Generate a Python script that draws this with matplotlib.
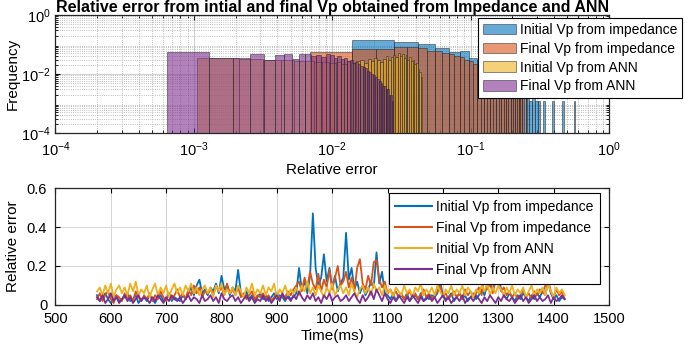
import numpy as np
import matplotlib.pyplot as plt
from matplotlib.patches import Patch
from matplotlib.lines import Line2D
from matplotlib.ticker import LogLocator, NullFormatter

plt.rcParams['font.family'] = ['Liberation Sans', 'DejaVu Sans']
plt.rcParams['font.size'] = 10

names = ['Initial Vp from impedance', 'Final Vp from impedance',
         'Initial Vp from ANN', 'Final Vp from ANN']
colors = ['#0072BD', '#D95319', '#EDB120', '#7E2F8E']  # matlab default order

# histogram: bin width of each series, bin k covers [k*w, (k+1)*w], k = 1, 2, ...
bin_w = [0.0139, 0.00695, 0.00106, 0.00064]

freq_init_imp = [0.14, 0.125, 0.104, 0.074, 0.056, 0.06, 0.035, 0.03, 0.02, 0.015,
                 0.012, 0.009, 0.007, 0.005, 0.004, 0.003, 0.003, 0.0024, 0.0012, 0.0024,
                 0.0012, 0.0012, 0, 0.0012, 0, 0, 0, 0.0012, 0, 0,
                 0, 0, 0.0012, 0, 0, 0, 0, 0, 0, 0.0012]
freq_final_imp = [0.056, 0.069, 0.069, 0.084, 0.080, 0.074, 0.062, 0.058, 0.050, 0.047,
                  0.040, 0.037, 0.030, 0.028, 0.022, 0.020, 0.016, 0.014, 0.012, 0.010,
                  0.009, 0.008, 0.006, 0.005, 0.005, 0.004, 0.004, 0.003, 0.003, 0.003,
                  0.002, 0.003, 0.002, 0.002, 0, 0.002]
freq_init_ann = [0.034, 0.032, 0.031, 0.030, 0.028, 0.027, 0.025, 0.026, 0.024, 0.026,
                 0.022, 0.027, 0.024, 0.028, 0.031, 0.024, 0.033, 0.028, 0.036, 0.030,
                 0.025, 0.033, 0.040, 0.030, 0.037, 0.045, 0.038, 0.050, 0.042, 0.047,
                 0.036, 0.044, 0.031, 0.038, 0.027, 0.030, 0.022, 0.024, 0.015, 0.012,
                 0.008]
freq_final_ann = [0.057, 0.034, 0.034, 0.047, 0.030, 0.044, 0.047, 0.032, 0.047, 0.046,
                  0.040, 0.043, 0.038, 0.047, 0.044, 0.036, 0.040, 0.033, 0.035, 0.028,
                  0.030, 0.024, 0.026, 0.021, 0.019, 0.017, 0.016, 0.013, 0.012, 0.010,
                  0.009, 0.008, 0.007, 0.006, 0.005, 0.004, 0.004, 0.003, 0.003, 0.002,
                  0.002, 0.0012]

# time series, one value every 5 ms from 575 to 1420 ms
t_ms = np.arange(575, 1421, 5)
err_init_imp = [
    0.05, 0.02, 0.04, 0.06, 0.03, 0.01, 0.04, 0.05, 0.02, 0.03,
    0.04, 0.06, 0.02, 0.03, 0.05, 0.01, 0.03, 0.04, 0.02, 0.05,
    0.03, 0.01, 0.04, 0.05, 0.02, 0.03, 0.06, 0.02, 0.04, 0.03,
    0.02, 0.05, 0.03, 0.06, 0.09, 0.05, 0.10, 0.13, 0.06, 0.08,
    0.05, 0.09, 0.07, 0.11, 0.06, 0.15, 0.08, 0.10, 0.05, 0.09,
    0.07, 0.18, 0.06, 0.04, 0.07, 0.03, 0.05, 0.02, 0.04, 0.06,
    0.03, 0.05, 0.02, 0.04, 0.06, 0.03, 0.05, 0.04, 0.02, 0.05,
    0.03, 0.04, 0.06, 0.19, 0.08, 0.12, 0.06, 0.15, 0.47, 0.19,
    0.10, 0.14, 0.26, 0.12, 0.19, 0.09, 0.15, 0.07, 0.11, 0.14,
    0.37, 0.13, 0.19, 0.08, 0.12, 0.06, 0.10, 0.05, 0.08, 0.12,
    0.09, 0.27, 0.11, 0.17, 0.06, 0.05, 0.03, 0.06, 0.02, 0.04,
    0.05, 0.03, 0.06, 0.02, 0.04, 0.05, 0.03, 0.06, 0.02, 0.04,
    0.03, 0.05, 0.04, 0.06, 0.12, 0.05, 0.03, 0.04, 0.06, 0.02,
    0.04, 0.06, 0.03, 0.05, 0.02, 0.04, 0.06, 0.03, 0.05, 0.08,
    0.05, 0.10, 0.13, 0.07, 0.12, 0.17, 0.08, 0.05, 0.03, 0.06,
    0.04, 0.02, 0.05, 0.03, 0.06, 0.04, 0.02, 0.05, 0.03, 0.06,
    0.04, 0.07, 0.05, 0.12, 0.06, 0.03, 0.05, 0.02, 0.04, 0.03]
err_final_imp = [
    0.03, 0.06, 0.02, 0.05, 0.07, 0.03, 0.01, 0.05, 0.04, 0.02,
    0.06, 0.03, 0.05, 0.02, 0.07, 0.04, 0.02, 0.05, 0.03, 0.06,
    0.02, 0.05, 0.03, 0.07, 0.04, 0.02, 0.06, 0.03, 0.05, 0.08,
    0.04, 0.06, 0.03, 0.08, 0.05, 0.10, 0.06, 0.09, 0.04, 0.07,
    0.06, 0.08, 0.05, 0.10, 0.07, 0.09, 0.05, 0.11, 0.06, 0.08,
    0.05, 0.09, 0.04, 0.06, 0.03, 0.05, 0.07, 0.03, 0.05, 0.04,
    0.06, 0.03, 0.05, 0.02, 0.04, 0.06, 0.03, 0.05, 0.04, 0.07,
    0.05, 0.08, 0.10, 0.12, 0.07, 0.14, 0.09, 0.17, 0.11, 0.08,
    0.16, 0.07, 0.13, 0.09, 0.18, 0.08, 0.14, 0.20, 0.10, 0.12,
    0.17, 0.09, 0.14, 0.07, 0.19, 0.235, 0.11, 0.08, 0.15, 0.10,
    0.22, 0.23, 0.13, 0.09, 0.12, 0.06, 0.08, 0.05, 0.07, 0.04,
    0.06, 0.03, 0.05, 0.07, 0.04, 0.06, 0.03, 0.05, 0.08, 0.04,
    0.06, 0.03, 0.05, 0.07, 0.10, 0.04, 0.06, 0.03, 0.05, 0.07,
    0.04, 0.06, 0.03, 0.08, 0.05, 0.07, 0.04, 0.06, 0.09, 0.05,
    0.165, 0.08, 0.11, 0.06, 0.15, 0.12, 0.07, 0.09, 0.05, 0.07,
    0.04, 0.06, 0.03, 0.05, 0.08, 0.04, 0.06, 0.03, 0.07, 0.05,
    0.08, 0.06, 0.10, 0.13, 0.07, 0.04, 0.08, 0.05, 0.07, 0.03]
err_init_ann = [
    0.07, 0.09, 0.05, 0.10, 0.06, 0.11, 0.04, 0.08, 0.10, 0.06,
    0.09, 0.05, 0.11, 0.07, 0.12, 0.05, 0.08, 0.06, 0.10, 0.04,
    0.08, 0.11, 0.05, 0.09, 0.06, 0.10, 0.04, 0.08, 0.11, 0.06,
    0.09, 0.05, 0.10, 0.07, 0.11, 0.06, 0.09, 0.05, 0.08, 0.10,
    0.06, 0.09, 0.04, 0.10, 0.07, 0.11, 0.05, 0.08, 0.06, 0.09,
    0.05, 0.10, 0.07, 0.04, 0.09, 0.06, 0.11, 0.05, 0.08, 0.06,
    0.10, 0.05, 0.09, 0.07, 0.11, 0.04, 0.08, 0.06, 0.10, 0.05,
    0.08, 0.06, 0.09, 0.05, 0.10, 0.07, 0.12, 0.06, 0.09, 0.05,
    0.10, 0.07, 0.04, 0.09, 0.06, 0.11, 0.05, 0.08, 0.10, 0.06,
    0.09, 0.05, 0.11, 0.07, 0.04, 0.08, 0.10, 0.06, 0.09, 0.05,
    0.11, 0.07, 0.09, 0.05, 0.10, 0.06, 0.08, 0.04, 0.09, 0.07,
    0.05, 0.10, 0.06, 0.08, 0.04, 0.09, 0.07, 0.11, 0.05, 0.08,
    0.06, 0.09, 0.05, 0.10, 0.07, 0.04, 0.08, 0.06, 0.10, 0.05,
    0.08, 0.06, 0.10, 0.05, 0.09, 0.07, 0.04, 0.08, 0.06, 0.10,
    0.07, 0.11, 0.05, 0.09, 0.06, 0.10, 0.08, 0.05, 0.09, 0.06,
    0.10, 0.05, 0.08, 0.06, 0.09, 0.04, 0.07, 0.10, 0.05, 0.08,
    0.06, 0.09, 0.05, 0.11, 0.07, 0.04, 0.09, 0.06, 0.08, 0.05]
err_final_ann = [
    0.04, 0.02, 0.05, 0.01, 0.03, 0.06, 0.02, 0.04, 0.01, 0.03,
    0.05, 0.02, 0.04, 0.01, 0.03, 0.05, 0.02, 0.04, 0.03, 0.01,
    0.04, 0.02, 0.05, 0.03, 0.01, 0.04, 0.02, 0.05, 0.03, 0.02,
    0.04, 0.01, 0.03, 0.05, 0.02, 0.04, 0.03, 0.01, 0.05, 0.02,
    0.03, 0.05, 0.02, 0.04, 0.01, 0.06, 0.03, 0.02, 0.04, 0.05,
    0.02, 0.04, 0.01, 0.03, 0.05, 0.02, 0.04, 0.01, 0.03, 0.02,
    0.05, 0.02, 0.04, 0.01, 0.03, 0.05, 0.02, 0.06, 0.03, 0.04,
    0.02, 0.05, 0.03, 0.07, 0.04, 0.02, 0.05, 0.03, 0.06, 0.02,
    0.04, 0.01, 0.05, 0.03, 0.06, 0.02, 0.04, 0.05, 0.02, 0.03,
    0.05, 0.02, 0.04, 0.06, 0.03, 0.01, 0.05, 0.02, 0.04, 0.07,
    0.03, 0.08, 0.05, 0.02, 0.06, 0.03, 0.01, 0.04, 0.02, 0.05,
    0.03, 0.01, 0.04, 0.02, 0.05, 0.03, 0.01, 0.04, 0.02, 0.03,
    0.05, 0.02, 0.04, 0.01, 0.03, 0.05, 0.02, 0.04, 0.01, 0.03,
    0.04, 0.02, 0.05, 0.01, 0.03, 0.04, 0.02, 0.05, 0.03, 0.01,
    0.04, 0.02, 0.05, 0.03, 0.01, 0.04, 0.02, 0.05, 0.03, 0.02,
    0.04, 0.01, 0.03, 0.05, 0.02, 0.04, 0.01, 0.03, 0.05, 0.02,
    0.04, 0.02, 0.03, 0.05, 0.01, 0.04, 0.02, 0.03, 0.05, 0.03]

freqs = [freq_init_imp, freq_final_imp, freq_init_ann, freq_final_ann]
errs = [err_init_imp, err_final_imp, err_init_ann, err_final_ann]

fig = plt.figure(figsize=(6.85, 3.45), dpi=100)
ax1 = fig.add_axes([0.081, 0.6145, 0.808, 0.342])
ax2 = fig.add_axes([0.081, 0.116, 0.808, 0.339])

# --- top: histograms on log-log axes
for f, w, c in zip(freqs, bin_w, colors):
    f = np.array(f)
    k = np.arange(1, len(f) + 1)
    keep = f > 0
    ax1.bar(k[keep] * w, f[keep], width=w, align='edge', color=c, alpha=0.6,
            edgecolor='#262626', linewidth=0.6)

ax1.set_xscale('log')
ax1.set_yscale('log')
ax1.set_xlim(1e-4, 1)
ax1.set_ylim(1e-4, 1)
ax1.set_xticks([1e-4, 1e-3, 1e-2, 1e-1, 1])
ax1.set_yticks([1e-4, 1e-2, 1])
ax1.xaxis.set_minor_locator(LogLocator(base=10, subs=np.arange(2, 10), numticks=20))
ax1.yaxis.set_minor_locator(LogLocator(base=10, subs=np.arange(2, 10), numticks=20))
ax1.xaxis.set_minor_formatter(NullFormatter())
ax1.yaxis.set_minor_formatter(NullFormatter())
ax1.set_axisbelow(True)
ax1.grid(True, which='major', color='#c8c8c8', linewidth=0.6)
ax1.grid(True, which='minor', color='#a8a8a8', linestyle=':', linewidth=0.6)
ax1.set_xlabel('Relative error', fontsize=11, labelpad=3)
ax1.set_ylabel('Frequency', fontsize=11)
ax1.yaxis.set_label_coords(-0.065, 0.5)
ax1.set_title('Relative error from intial and final Vp obtained from Impedance and ANN',
              fontsize=11.5, fontweight='bold', pad=2)
ax1.tick_params(which='both', direction='in', top=True, right=True, labelsize=10.5)
ax1.tick_params(axis='x', which='major', pad=5)

h1 = [Patch(facecolor=c, alpha=0.6, edgecolor='#262626', linewidth=0.6) for c in colors]
leg1 = ax1.legend(h1, names, loc='upper right', bbox_to_anchor=(0.9956, 0.948),
                  bbox_transform=fig.transFigure, fontsize=10, fancybox=False,
                  edgecolor='black', framealpha=1, handlelength=2.4, handleheight=0.8,
                  handletextpad=0.25, labelspacing=0.35, borderpad=0.35, borderaxespad=0)
leg1.get_frame().set_linewidth(0.8)

# --- bottom: relative error against time
for e, c, n in zip(errs, colors, names):
    ax2.plot(t_ms, e, color=c, linewidth=1.3, label=n)

ax2.set_xlim(500, 1500)
ax2.set_ylim(0, 0.6)
ax2.set_xticks(np.arange(500, 1501, 100))
ax2.set_yticks([0, 0.2, 0.4, 0.6])
ax2.set_yticklabels(['0', '0.2', '0.4', '0.6'])
ax2.grid(True, color='#d5d5d5', linewidth=0.7)
ax2.set_axisbelow(True)
ax2.set_xlabel('Time(ms)', fontsize=11, labelpad=2)
ax2.set_ylabel('Relative error', fontsize=11)
ax2.yaxis.set_label_coords(-0.065, 0.5)
ax2.tick_params(direction='in', top=True, right=True, labelsize=10.5)
ax2.tick_params(axis='x', pad=5)
ax2.tick_params(axis='y', pad=6)

h2 = [Line2D([], [], color=c, linewidth=1.5) for c in colors]
leg2 = ax2.legend(h2, names, loc='upper right', bbox_to_anchor=(0.876, 0.44),
                  bbox_transform=fig.transFigure, fontsize=10, fancybox=False,
                  edgecolor='black', framealpha=1, handlelength=2.6,
                  handletextpad=0.3, labelspacing=0.5, borderpad=0.5, borderaxespad=0)
leg2.get_frame().set_linewidth(0.8)

for ax in (ax1, ax2):
    for s in ax.spines.values():
        s.set_linewidth(0.9)
        s.set_color('#262626')

fig.savefig('out.png', dpi=100)
